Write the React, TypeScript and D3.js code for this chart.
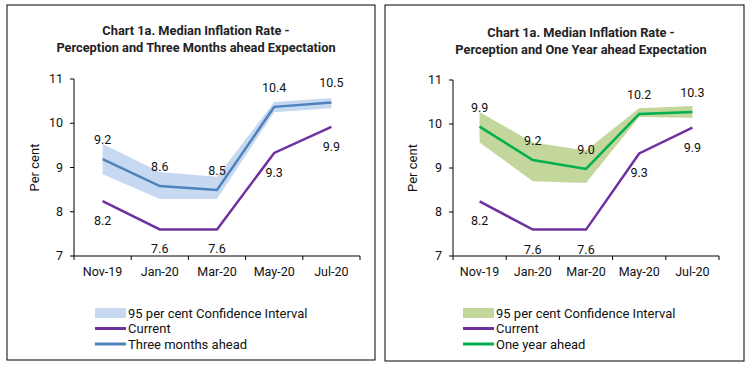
import * as d3 from 'd3';

const months = ["Nov-19", "Jan-20", "Mar-20", "May-20", "Jul-20"];
const yTicks = [7, 8, 9, 10, 11];

// perception (current) - same in both panels
const current = [8.24, 7.6, 7.6, 9.33, 9.92];

// three months ahead expectation and its 95% CI
const threeMonths = [9.19, 8.58, 8.49, 10.37, 10.47];
const threeMonthsLow = [8.85, 8.29, 8.29, 10.25, 10.34];
const threeMonthsHigh = [9.53, 8.9, 8.79, 10.48, 10.57];

// one year ahead expectation and its 95% CI
const oneYear = [9.94, 9.18, 8.98, 10.23, 10.27];
const oneYearLow = [9.58, 8.7, 8.66, 10.16, 10.14];
const oneYearHigh = [10.27, 9.58, 9.4, 10.36, 10.41];

const FONT = "Roboto, 'Noto Sans', sans-serif";
const PURPLE = "#7030a0";

interface PanelProps {
  box: [number, number, number, number];
  plot: { left: number; right: number; top: number; bottom: number };
  titleX: number;
  titleY: number;
  titleLines: string[];
  yLabelX: number;
  legendX: number;
  expLabel: string;
  exp: number[];
  low: number[];
  high: number[];
  lineColor: string;
  bandColor: string;
}

function Panel(p: PanelProps) {
  const x = d3.scaleBand<string>().domain(months).range([p.plot.left, p.plot.right]).padding(0);
  const y = d3.scaleLinear().domain([7, 11]).range([p.plot.bottom, p.plot.top]);
  const cx = (m: string) => (x(m) as number) + x.bandwidth() / 2;

  const band = d3.area<number>()
    .x((_, i) => cx(months[i]))
    .y0((_, i) => y(p.low[i]))
    .y1((_, i) => y(p.high[i]));
  const line = d3.line<number>()
    .x((_, i) => cx(months[i]))
    .y(d => y(d));

  const xTickPos = [...months.map(m => x(m) as number), p.plot.right];
  const legendRows = [
    { label: "95 per cent Confidence Interval", kind: "band" },
    { label: "Current", kind: "cur" },
    { label: p.expLabel, kind: "exp" },
  ];

  return (
    <g fontFamily={FONT}>
      <rect x={p.box[0]} y={p.box[1]} width={p.box[2]} height={p.box[3]} fill="#fff" stroke="#000" strokeWidth={1} />
      {p.titleLines.map((t, i) => (
        <text key={t} x={p.titleX} y={p.titleY + i * 17} textAnchor="middle" fontSize={12.8} fontWeight="bold" fill="#222">{t}</text>
      ))}

      <path d={band(p.exp) as string} fill={p.bandColor} />
      <path d={line(current) as string} fill="none" stroke={PURPLE} strokeWidth={2.5} />
      <path d={line(p.exp) as string} fill="none" stroke={p.lineColor} strokeWidth={2.5} />

      {p.exp.map((v, i) => (
        <text key={"e" + i} x={cx(months[i])} y={y(v) - 15} textAnchor="middle" fontSize={12.5} fill="#111">{v.toFixed(1)}</text>
      ))}
      {current.map((v, i) => (
        <text key={"c" + i} x={cx(months[i])} y={y(v) + 24} textAnchor="middle" fontSize={12.5} fill="#111">{v.toFixed(1)}</text>
      ))}

      <line x1={p.plot.left} x2={p.plot.left} y1={y(11)} y2={y(7)} stroke="#000" />
      {yTicks.map(t => (
        <g key={t}>
          <line x1={p.plot.left - 4} x2={p.plot.left} y1={y(t)} y2={y(t)} stroke="#000" />
          <text x={p.plot.left - 11} y={y(t) + 4} textAnchor="end" fontSize={12.5} fill="#111">{t}</text>
        </g>
      ))}
      <line x1={p.plot.left} x2={p.plot.right} y1={y(7)} y2={y(7)} stroke="#000" />
      {xTickPos.map((xp, i) => (
        <line key={i} x1={xp} x2={xp} y1={y(7)} y2={y(7) + 4} stroke="#000" />
      ))}
      {months.map(m => (
        <text key={m} x={cx(m)} y={y(7) + 20} textAnchor="middle" fontSize={12.5} fill="#111">{m}</text>
      ))}

      <text transform={`translate(${p.yLabelX},${(y(7) + y(11)) / 2}) rotate(-90)`} textAnchor="middle" fontSize={13} fill="#111">Per cent</text>

      {legendRows.map((r, i) => {
        const ly = 313 + i * 15.5;
        return (
          <g key={r.label}>
            {r.kind === "band"
              ? <rect x={p.legendX} y={ly - 5} width={31} height={10} fill={p.bandColor} />
              : <line x1={p.legendX} x2={p.legendX + 31} y1={ly} y2={ly} stroke={r.kind === "cur" ? PURPLE : p.lineColor} strokeWidth={3} />}
            <text x={p.legendX + 33} y={ly + 4.5} fontSize={13} fill="#111">{r.label}</text>
          </g>
        );
      })}
    </g>
  );
}

export default function App() {
  return (
    <svg width={752} height={371} style={{ position: "absolute", left: 0, top: 0, background: "#fff" }}>
      <Panel
        box={[7, 5, 368, 355]}
        plot={{ left: 74, right: 360, top: 79, bottom: 256 }}
        titleX={196}
        titleY={35}
        titleLines={["Chart 1a. Median Inflation Rate -", "Perception and Three Months ahead Expectation"]}
        yLabelX={39}
        legendX={95}
        expLabel="Three months ahead"
        exp={threeMonths}
        low={threeMonthsLow}
        high={threeMonthsHigh}
        lineColor="#4f81bd"
        bandColor="#c6d9f1"
      />
      <Panel
        box={[385, 5, 359, 356]}
        plot={{ left: 453, right: 719, top: 80, bottom: 256 }}
        titleX={581}
        titleY={37}
        titleLines={["Chart 1a. Median Inflation Rate -", "Perception and One Year ahead Expectation"]}
        yLabelX={417}
        legendX={463}
        expLabel="One year ahead"
        exp={oneYear}
        low={oneYearLow}
        high={oneYearHigh}
        lineColor="#00b050"
        bandColor="#c3d69b"
      />
    </svg>
  );
}
